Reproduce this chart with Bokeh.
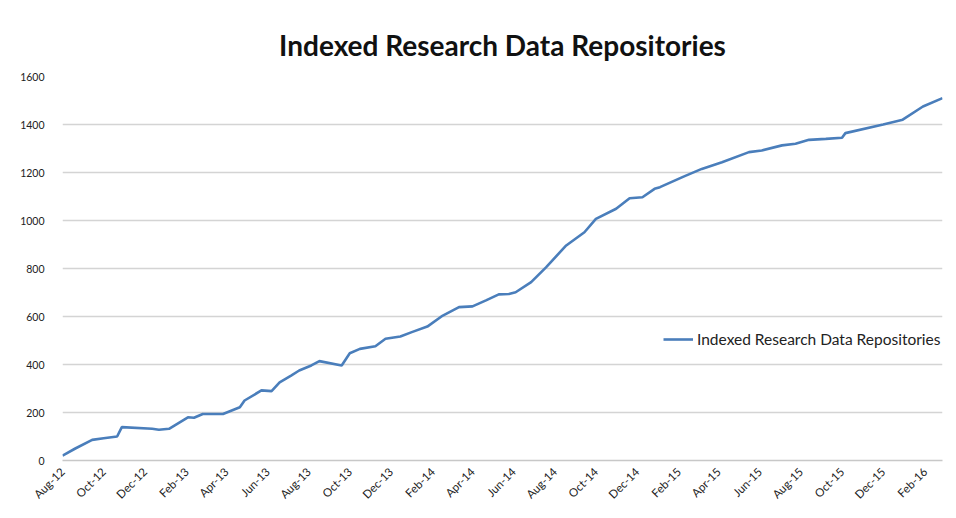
import datetime as dt
from math import pi
from bokeh.plotting import figure
from bokeh.models import Range1d, FixedTicker, DatetimeTickFormatter, Legend, LegendItem
from bokeh.embed import file_html
from bokeh.resources import INLINE

# ---- data ----
dates = [
    "2012-08-01", "2012-08-20", "2012-09-14", "2012-10-01", "2012-10-21", "2012-10-28",
    "2012-12-12", "2012-12-22", "2013-01-06", "2013-02-03", "2013-02-12", "2013-02-25",
    "2013-03-27", "2013-04-21", "2013-04-28", "2013-05-23", "2013-06-07", "2013-06-19",
    "2013-07-06", "2013-07-18", "2013-08-05", "2013-08-17", "2013-09-19", "2013-10-01",
    "2013-10-16", "2013-11-08", "2013-11-23", "2013-12-15", "2014-01-01", "2014-01-24",
    "2014-02-16", "2014-03-12", "2014-04-01", "2014-04-21", "2014-05-10", "2014-05-25",
    "2014-06-04", "2014-06-27", "2014-07-19", "2014-08-18", "2014-09-14", "2014-10-01",
    "2014-10-31", "2014-11-20", "2014-12-09", "2014-12-27", "2015-01-04", "2015-02-08",
    "2015-03-07", "2015-04-06", "2015-05-16", "2015-06-04", "2015-07-04", "2015-07-24",
    "2015-08-13", "2015-09-07", "2015-10-01", "2015-10-06", "2015-12-01", "2015-12-30",
    "2016-01-29", "2016-02-27",
]
repositories = [
    20, 50, 86, 93, 100, 139,
    132, 128, 132, 180, 178, 194,
    194, 222, 250, 292, 289, 326,
    354, 375, 396, 414, 396, 447,
    465, 476, 507, 517, 535, 558,
    604, 639, 642, 667, 692, 694,
    701, 743, 805, 896, 951, 1007,
    1049, 1093, 1097, 1132, 1139, 1183,
    1215, 1243, 1285, 1292, 1313, 1320,
    1336, 1340, 1345, 1364, 1400, 1420,
    1475, 1510,
]
tick_labels = ["Aug-12", "Oct-12", "Dec-12", "Feb-13", "Apr-13", "Jun-13", "Aug-13",
               "Oct-13", "Dec-13", "Feb-14", "Apr-14", "Jun-14", "Aug-14", "Oct-14",
               "Dec-14", "Feb-15", "Apr-15", "Jun-15", "Aug-15", "Oct-15", "Dec-15",
               "Feb-16"]
y_ticks = [0, 200, 400, 600, 800, 1000, 1200, 1400, 1600]
series_name = "Indexed Research Data Repositories"
title_text = "Indexed Research Data Repositories"

# ---- build ----
epoch = dt.datetime(1970, 1, 1)
def to_ms(d):
    return (d - epoch).total_seconds() * 1000.0

xs = [dt.datetime.strptime(d, "%Y-%m-%d") for d in dates]
tick_pos = [to_ms(dt.datetime.strptime(t, "%b-%y")) for t in tick_labels]

FONT = "Lato"
LINE_COLOR = "#4a7ebb"

p = figure(width=956, height=518, x_axis_type="datetime",
           output_backend="svg", toolbar_location=None,
           x_range=Range1d(xs[0], xs[-1]), y_range=Range1d(0, 1600),
           min_border_left=62, min_border_right=14, min_border_bottom=58,
           min_border_top=76)

p.title.text = title_text
p.title.align = "center"
p.title.text_font = FONT
p.title.text_font_style = "bold"
p.title.text_font_size = "28px"
p.title.text_color = "#111111"
p.title.standoff = 30

r = p.line(xs, repositories, line_color=LINE_COLOR, line_width=2.6)

# axes
p.yaxis.ticker = FixedTicker(ticks=y_ticks)
p.yaxis.axis_line_color = None
p.yaxis.major_tick_line_color = None
p.yaxis.minor_tick_line_color = None
p.yaxis.major_label_text_font = FONT
p.yaxis.major_label_text_font_size = "10.5px"
p.yaxis.major_label_text_color = "#222222"
p.yaxis.major_label_standoff = 12

p.xaxis.ticker = FixedTicker(ticks=tick_pos)
fmt = "%b-%y"
p.xaxis.formatter = DatetimeTickFormatter(
    milliseconds=fmt, seconds=fmt, minsec=fmt, minutes=fmt, hourmin=fmt,
    hours=fmt, days=fmt, months=fmt, years=fmt)
p.xaxis.major_label_orientation = pi / 4
p.xaxis.axis_line_color = "#c8c8c8"
p.xaxis.axis_line_width = 1.5
p.xaxis.major_tick_line_color = None
p.xaxis.minor_tick_line_color = None
p.xaxis.major_label_text_font = FONT
p.xaxis.major_label_text_font_size = "11.5px"
p.xaxis.major_label_text_color = "#222222"
p.xaxis.major_label_standoff = 3

p.xgrid.grid_line_color = None
p.ygrid.grid_line_color = "#d4d4d4"
p.ygrid.grid_line_width = 1.5
p.outline_line_color = None

legend = Legend(items=[LegendItem(label=series_name, renderers=[r])],
                location=(601, 112), padding=0, margin=0, spacing=0,
                glyph_width=30, glyph_height=16, label_height=16,
                label_standoff=4, border_line_color=None,
                background_fill_alpha=0,
                label_text_font=FONT, label_text_font_size="15.5px",
                label_text_color="#222222")
p.add_layout(legend)

open("out.html", "w").write(file_html(p, INLINE))
